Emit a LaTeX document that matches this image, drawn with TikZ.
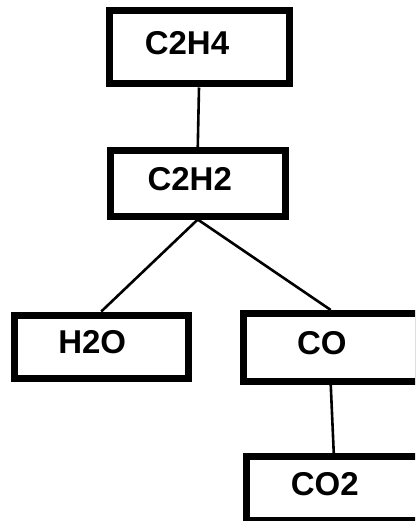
\documentclass[tikz,border=0pt]{standalone}
\usepackage{fontspec}
\setmainfont{Liberation Sans}
\begin{document}
\begin{tikzpicture}[x=1pt,y=-1pt,
  chembox/.style={draw=black,line width=7pt,rectangle,inner sep=0pt,
    minimum width=174.5pt,text depth=9pt,
    font=\fontsize{33}{36}\selectfont\bfseries},
  link/.style={draw=black,line width=2.6pt}]
\clip (0,0) rectangle (415,521);
\fill[white] (0,0) rectangle (415,521);
\node[chembox,minimum width=180pt,minimum height=73pt] (c2h4) at (199,47.5) {C2H4\hspace*{24pt}};
\node[chembox,minimum height=65pt] (c2h2) at (197.75,183.5) {C2H2\hspace*{16pt}};
\node[chembox,minimum height=63pt] (h2o) at (101.25,346.5) {H2O\hspace*{18pt}};
\node[chembox,minimum height=68pt] (co) at (330.75,347.5) {CO\hspace*{18pt}};
\node[chembox,minimum height=63.5pt] (co2) at (333.75,488.25) {CO2\hspace*{18pt}};
\draw[link] (c2h4.south) -- (c2h2.north);
\draw[link] (c2h2.south) -- (h2o.north);
\draw[link] (c2h2.south) -- (co.north);
\draw[link] (co.south) -- (co2.north);
\end{tikzpicture}
\end{document}
